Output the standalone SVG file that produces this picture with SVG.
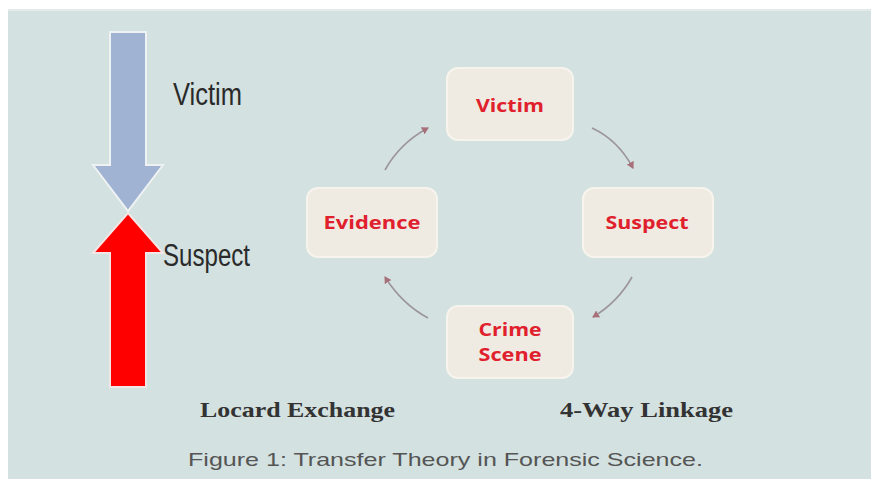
<svg xmlns="http://www.w3.org/2000/svg" width="871" height="479" viewBox="0 0 871 479">
<defs>
<style>
.node rect{fill:#efebe2;stroke:#f7f4ee;stroke-width:2}
.node text{font-family:"Open Sans","Noto Sans",sans-serif;font-weight:bold;font-size:17px;fill:#e0202c;text-anchor:middle}
.conn path{fill:none;stroke:#9d959d;stroke-width:1.6;marker-end:url(#ah)}
.side{font-family:"Liberation Sans",Arial,sans-serif;font-size:31px;fill:#2a2a2a}
.lbl{font-family:"Liberation Serif","Times New Roman",serif;font-weight:bold;font-size:21px;fill:#333}
</style>
<marker id="ah" markerWidth="8" markerHeight="8" refX="6" refY="4" orient="auto" markerUnits="userSpaceOnUse">
<path d="M0,0 L7,4 L0,8 Z" fill="#a8707a"/>
</marker>
</defs>
<rect x="0" y="0" width="871" height="479" fill="#ffffff"/>
<rect x="8" y="9" width="863" height="470" fill="#e3eaea"/>
<rect x="8" y="11" width="863" height="468" fill="#d3e1e0"/>

<g id="victim-arrow">
<polygon points="110,32 146,32 146,165 163,165 128,211 93,165 110,165" fill="#a0b3d3" stroke="#eef2f2" stroke-width="2"/>
</g>
<g id="suspect-arrow">
<polygon points="128,213 163,253 146,253 146,387 110,387 110,253 93,253" fill="#ff0000" stroke="#f3e6e6" stroke-width="2"/>
</g>
<text class="side" x="173" y="105" textLength="69" lengthAdjust="spacingAndGlyphs">Victim</text>
<text class="side" x="163" y="266" textLength="87" lengthAdjust="spacingAndGlyphs">Suspect</text>

<g class="conn" id="connectors">
<path d="M592,128 Q618,140 633,168"/>
<path d="M632,277 Q618,302 593,317"/>
<path d="M428,318 Q402,304 385,277"/>
<path d="M385,170 Q400,143 428,128"/>
</g>

<g class="node" id="node-victim">
<rect x="447" y="68" width="126" height="72" rx="11"/>
<text x="510" y="112" textLength="68" lengthAdjust="spacingAndGlyphs">Victim</text>
</g>
<g class="node" id="node-suspect">
<rect x="583" y="188" width="130" height="69" rx="11"/>
<text x="647" y="229" textLength="83" lengthAdjust="spacingAndGlyphs">Suspect</text>
</g>
<g class="node" id="node-crime-scene">
<rect x="447" y="306" width="126" height="72" rx="11"/>
<text x="510" y="336" textLength="63" lengthAdjust="spacingAndGlyphs">Crime</text>
<text x="510" y="361" textLength="63" lengthAdjust="spacingAndGlyphs">Scene</text>
</g>
<g class="node" id="node-evidence">
<rect x="307" y="188" width="130" height="69" rx="11"/>
<text x="372" y="229" textLength="97" lengthAdjust="spacingAndGlyphs">Evidence</text>
</g>

<text class="lbl" x="200" y="417" textLength="195" lengthAdjust="spacingAndGlyphs">Locard Exchange</text>
<text class="lbl" x="560" y="417" textLength="173" lengthAdjust="spacingAndGlyphs">4-Way Linkage</text>
<text x="188" y="466" font-family="Liberation Sans,Arial,sans-serif" font-size="19" fill="#555" textLength="515" lengthAdjust="spacingAndGlyphs">Figure 1: Transfer Theory in Forensic Science.</text>
</svg>
